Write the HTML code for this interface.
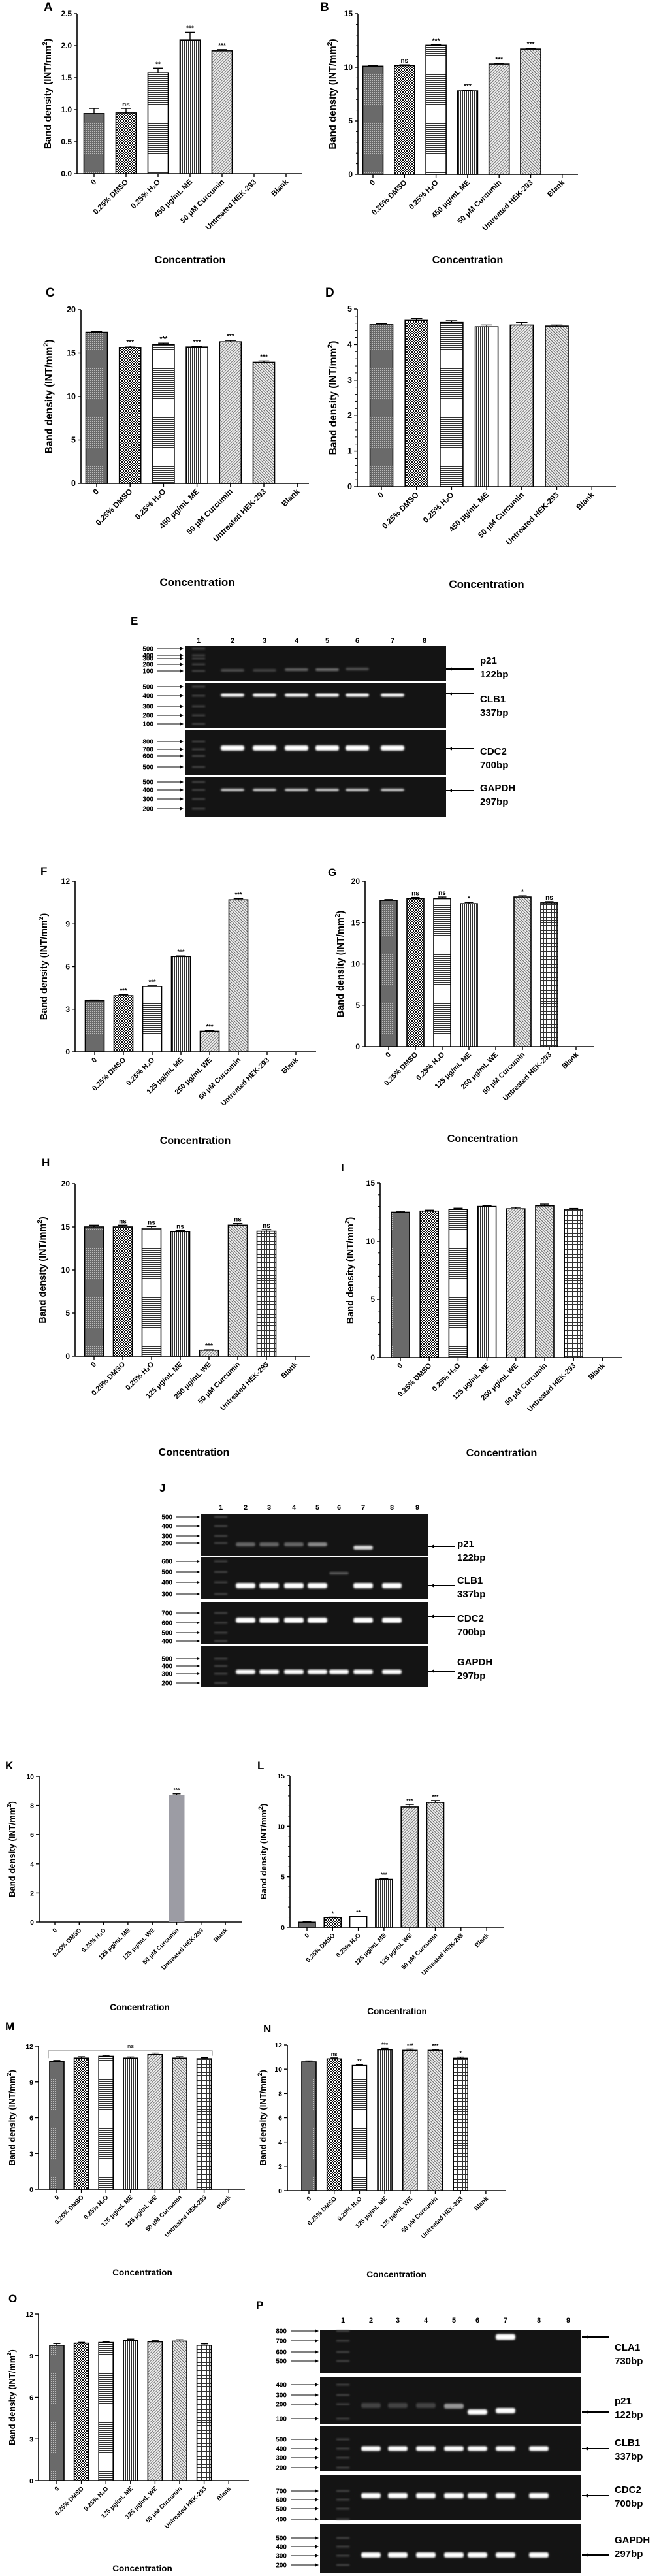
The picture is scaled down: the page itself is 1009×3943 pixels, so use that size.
<!DOCTYPE html>
<html><head><meta charset="utf-8"><title>Band density figure</title>
<style>
html,body{margin:0;padding:0;background:#fff;}
svg{display:block;font-family:"Liberation Sans",Arial,sans-serif;}
</style></head>
<body>
<svg id="fig" width="1009" height="3943" viewBox="0 0 1009 3943" xmlns="http://www.w3.org/2000/svg">
<defs>
<pattern id="p0" width="3" height="3" patternUnits="userSpaceOnUse"><rect width="3" height="3" fill="#6a6a6a"/><rect width="1" height="1" fill="#bbb"/></pattern>
<pattern id="p1" width="4" height="4" patternUnits="userSpaceOnUse"><rect width="4" height="4" fill="#fff"/><rect width="2" height="2" fill="#111"/><rect x="2" y="2" width="2" height="2" fill="#111"/></pattern>
<pattern id="p2" width="4" height="3" patternUnits="userSpaceOnUse"><rect width="4" height="3" fill="#fff"/><rect width="4" height="1" fill="#333"/></pattern>
<pattern id="p3" width="3" height="4" patternUnits="userSpaceOnUse"><rect width="3" height="4" fill="#fff"/><rect width="1" height="4" fill="#333"/></pattern>
<pattern id="p4" width="3" height="3" patternUnits="userSpaceOnUse" patternTransform="rotate(45)"><rect width="3" height="3" fill="#eee"/><rect width="1" height="3" fill="#777"/></pattern>
<pattern id="p5" width="3" height="3" patternUnits="userSpaceOnUse" patternTransform="rotate(-45)"><rect width="3" height="3" fill="#eee"/><rect width="1" height="3" fill="#666"/></pattern>
<pattern id="p6" width="4" height="4" patternUnits="userSpaceOnUse"><rect width="4" height="4" fill="#fff"/><rect width="4" height="1" fill="#333"/><rect width="1" height="4" fill="#333"/></pattern>
<filter id="blur" x="-50%" y="-100%" width="200%" height="300%"><feGaussianBlur stdDeviation="1.4"/></filter>
</defs>
</svg>
<script>
// ===== DATA =====
const catsA = ["0","0.25% DMSO","0.25% H\u2082O","450 \u03bcg/mL ME","50 \u03bcM Curcumin","Untreated HEK-293","Blank"];
const catsF = ["0","0.25% DMSO","0.25% H\u2082O","125 \u03bcg/mL ME","250 \u03bcg/mL WE","50 \u03bcM Curcumin","Untreated HEK-293","Blank"];
const catsK = ["0","0.25% DMSO","0.25% H\u2082O","125 \u03bcg/mL ME","125 \u03bcg/mL WE","50 \u03bcM Curcumin","Untreated HEK-293","Blank"];

const valsA = [0.94,0.95,1.58,2.09,1.92,0,0];
const errsA = [0.08,0.07,0.07,0.12,0.02,0,0];
const sigA = ["","ns","**","***","***","",""];
const ticksA = [0,0.5,1.0,1.5,2.0,2.5];

const valsB = [10.1,10.15,12.05,7.8,10.3,11.7,0];
const errsB = [0.05,0.08,0.05,0.06,0.05,0.06,0];
const sigB = ["","ns","***","***","***","***",""];
const ticksB = [0,5,10,15];

const valsC = [17.4,15.65,16.0,15.7,16.3,13.95,0];
const errsC = [0.08,0.15,0.15,0.1,0.15,0.15,0];
const sigC = ["","***","***","***","***","***",""];
const ticksC = [0,5,10,15,20];

const valsD = [4.56,4.68,4.62,4.50,4.55,4.52,0];
const errsD = [0.03,0.05,0.05,0.05,0.07,0.03,0];
const sigD = ["","","","","","",""];
const ticksD = [0,1,2,3,4,5];

const valsF = [3.6,3.95,4.6,6.7,1.45,10.7,0,0];
const errsF = [0.05,0.07,0.05,0.05,0.05,0.08,0,0];
const sigF = ["","***","***","***","***","***","",""];
const ticksF = [0,3,6,9,12];

const valsG = [17.7,17.9,17.9,17.3,0,18.1,17.4,0];
const errsG = [0.1,0.15,0.2,0.15,0,0.15,0.15,0];
const sigG = ["","ns","ns","*","","*","ns",""];
const ticksG = [0,5,10,15,20];

const valsH = [15.0,15.0,14.85,14.45,0.7,15.2,14.5,0];
const errsH = [0.2,0.2,0.2,0.15,0.05,0.2,0.2,0];
const sigH = ["","ns","ns","ns","***","ns","ns",""];
const ticksH = [0,5,10,15,20];

const valsI = [12.5,12.6,12.75,13.0,12.8,13.05,12.75,0];
const errsI = [0.08,0.08,0.1,0.05,0.12,0.15,0.08,0];
const sigI = ["","","","","","","",""];
const ticksI = [0,5,10,15];

const valsK = [0,0,0,0,0,8.7,0,0];
const errsK = [0,0,0,0,0,0.1,0,0];
const sigK = ["","","","","","***","",""];
const ticksK = [0,2,4,6,8,10];

const valsL = [0.5,0.95,1.05,4.75,11.9,12.35,0,0];
const errsL = [0.05,0.05,0.05,0.08,0.25,0.2,0,0];
const sigL = ["","*","**","***","***","***","",""];
const ticksL = [0,5,10,15];

const valsM = [10.7,11.0,11.15,11.0,11.3,11.0,10.95,0];
const errsM = [0.1,0.12,0.08,0.1,0.12,0.12,0.08,0];
const sigM = ["","","","","","","",""];
const ticksM = [0,3,6,9,12];

const valsN = [10.6,10.85,10.3,11.6,11.55,11.55,10.9,0];
const errsN = [0.08,0.08,0.05,0.1,0.1,0.08,0.1,0];
const sigN = ["","ns","**","***","***","***","*",""];
const ticksN = [0,2,4,6,8,10,12];

const valsO = [9.75,9.9,9.95,10.1,10.0,10.05,9.75,0];
const errsO = [0.12,0.06,0.06,0.1,0.08,0.1,0.1,0];
const sigO = ["","","","","","","",""];
const ticksO = [0,3,6,9,12];

// ===== RENDER =====
const NS = "http://www.w3.org/2000/svg";
const svg = document.getElementById("fig");
function el(tag, attrs, parent){
  const e = document.createElementNS(NS, tag);
  for (const k in attrs) e.setAttribute(k, attrs[k]);
  (parent||svg).appendChild(e);
  return e;
}
const pat6 = ["url(#p0)","url(#p1)","url(#p2)","url(#p3)","url(#p4)","url(#p5)"];
const pat7 = ["url(#p0)","url(#p1)","url(#p2)","url(#p3)","url(#p4)","url(#p5)","url(#p6)"];

function chart(c){
  const g = el("g", {});
  
  
  const yScale = v => c.y0 - (v / c.max) * (c.y0 - c.yTop);
  const xScale = i => c.first + i * c.step;
  // panel letter
  const L = el("text", {x:c.lx, y:c.ly, "font-size":c.big?19:17, "font-weight":"bold", fill:"#000"}, g);
  L.textContent = c.id;
  
  
  // axes
  const ya = el("line", {x1:c.ax, y1:c.yTop, x2:c.ax, y2:c.y0, stroke:"#000", "stroke-width":1.6}, g);
  
  
  const xa = el("line", {x1:c.ax, y1:c.y0, x2:c.xEnd, y2:c.y0, stroke:"#000", "stroke-width":1.6}, g);
  
  
  // ticks
  c.ticks.forEach(t => {
    const y = yScale(t);
    el("line", {x1:c.ax-5, y1:y, x2:c.ax, y2:y, stroke:"#000", "stroke-width":1.4}, g);
    const tl = el("text", {x:c.ax-8, y:y+4, "font-size":c.tfs, "font-weight":"bold", "text-anchor":"end"}, g);
    tl.textContent = c.tickFmt ? c.tickFmt(t) : String(t);
    
    
  });
  if (c.minor) {
    const mx = c.ticks[c.ticks.length-1];
    for (let v = 0; v <= mx + 1e-9; v += c.minor) {
      const y = yScale(v);
      el("line", {x1:c.ax-3, y1:y, x2:c.ax, y2:y, stroke:"#000", "stroke-width":1}, g);
    }
  }
  // y title
  const ty = (c.yTop + c.y0) / 2;
  const yt = el("text", {x:c.ax + c.titleOff, y:ty, "font-size":c.yfs, "font-weight":"bold", "text-anchor":"middle", transform:`rotate(-90 ${c.ax + c.titleOff} ${ty})`}, g);
  yt.textContent = "Band density (INT/mm";
  const sup = el("tspan", {"font-size":c.yfs*0.7, dy:-6}, yt);
  sup.textContent = "2";
  const close = el("tspan", {dy:6}, yt);
  close.textContent = ")";
  
  
  // bars + x labels
  c.cats.forEach((cat, i) => {
    const cx = xScale(i);
    el("line", {x1:cx, y1:c.y0, x2:cx, y2:c.y0+5, stroke:"#000", "stroke-width":1.4}, g);
    const xl = el("text", {x:cx+4, y:c.y0+13, "font-size":c.xfs, "font-weight":"bold", "text-anchor":"end", transform:`rotate(-45 ${cx+4} ${c.y0+13})`}, g);
    xl.textContent = cat;
    
    
    const v = c.vals[i];
    if (v > 0) {
      const yt2 = yScale(v);
      const fill = c.solid ? c.solid : c.pats[i];
      const bar = el("rect", {x:cx-c.bw/2, y:yt2, width:c.bw, height:c.y0-yt2, fill:fill, stroke:c.solid?"none":"#000", "stroke-width":1.6}, g);
      
      
      const e = c.errs[i];
      const ye = yScale(v + e);
      el("line", {x1:cx, y1:yt2, x2:cx, y2:ye, stroke:"#000", "stroke-width":1.4}, g);
      el("line", {x1:cx-c.bw*0.25, y1:ye, x2:cx+c.bw*0.25, y2:ye, stroke:"#000", "stroke-width":1.4}, g);
      if (c.sig[i]) {
        const st = el("text", {x:cx, y:ye-3, "font-size":c.sfs, "font-weight":"bold", "text-anchor":"middle"}, g);
        st.textContent = c.sig[i];
        
        
      }
    }
  });
  const ct = el("text", {x:c.cx, y:c.cy, "font-size":c.cfs, "font-weight":"bold", "text-anchor":"middle"}, g);
  ct.textContent = "Concentration";
  
  
  return {g, yScale, xScale};
}

const fmtA = t => t.toFixed(1);
chart({id:"A",lx:67,ly:17,ax:118,y0:266,yTop:21,max:2.5,ticks:ticksA,tickFmt:fmtA,xEnd:463,first:144,step:49,bw:31,cats:catsA,vals:valsA,errs:errsA,sig:sigA,pats:pat6,titleOff:-40,tfs:12,yfs:15,xfs:11.5,sfs:10,cx:291,cy:403,cfs:16,big:1});
chart({id:"B",lx:490,ly:17,ax:548,y0:267,yTop:21,max:15,ticks:ticksB,minor:1,xEnd:885,first:571,step:48.3,bw:31,cats:catsA,vals:valsB,errs:errsB,sig:sigB,pats:pat6,titleOff:-34,tfs:12,yfs:15,xfs:11.5,sfs:10,cx:716,cy:403,cfs:16,big:1});
chart({id:"C",lx:70,ly:454,ax:124,y0:740,yTop:474,max:20,ticks:ticksC,xEnd:473,first:148,step:51.2,bw:33,cats:catsA,vals:valsC,errs:errsC,sig:sigC,pats:pat6,titleOff:-44,tfs:12.5,yfs:15.5,xfs:12,sfs:10,cx:302,cy:897,cfs:17,big:1});
chart({id:"D",lx:498,ly:454,ax:547,y0:745,yTop:473,max:5,ticks:ticksD,minor:0.2,xEnd:943,first:584,step:53.7,bw:35,cats:catsA,vals:valsD,errs:errsD,sig:sigD,pats:pat6,titleOff:-32,tfs:12.5,yfs:15.5,xfs:12,sfs:10,cx:745,cy:900,cfs:17,big:1});
chart({id:"F",lx:62,ly:1339,ax:115,y0:1610,yTop:1349,max:12,ticks:ticksF,xEnd:484,first:145,step:44,bw:29,cats:catsF,vals:valsF,errs:errsF,sig:sigF,pats:pat7,titleOff:-43,tfs:12,yfs:14.5,xfs:11,sfs:9.5,cx:299,cy:1751,cfs:16});
chart({id:"G",lx:502,ly:1341,ax:559,y0:1602,yTop:1349,max:20,ticks:ticksG,xEnd:909,first:595,step:41,bw:26,cats:catsF,vals:valsG,errs:errsG,sig:sigG,pats:pat7,titleOff:-33,tfs:12,yfs:14.5,xfs:11,sfs:10,cx:739,cy:1748,cfs:16});
chart({id:"H",lx:64,ly:1785,ax:115,y0:2076,yTop:1812,max:20,ticks:ticksH,xEnd:474,first:144,step:44,bw:29,cats:catsF,vals:valsH,errs:errsH,sig:sigH,pats:pat7,titleOff:-45,tfs:12,yfs:14.5,xfs:11,sfs:10,cx:297,cy:2228,cfs:16});
chart({id:"I",lx:522,ly:1793,ax:582,y0:2078,yTop:1811,max:15,ticks:ticksI,minor:1,xEnd:952,first:613,step:44.2,bw:28,cats:catsF,vals:valsI,errs:errsI,sig:sigI,pats:pat7,titleOff:-41,tfs:12,yfs:14.5,xfs:11,sfs:10,cx:768,cy:2229,cfs:16});
chart({id:"K",lx:8,ly:2708,ax:60,y0:2942,yTop:2719,max:10,ticks:ticksK,xEnd:370,first:84,step:37.3,bw:24,cats:catsK,vals:valsK,errs:errsK,sig:sigK,pats:pat7,solid:"#9c9ca4",titleOff:-37,tfs:10.5,yfs:13,xfs:9.5,sfs:8.5,cx:214,cy:3077,cfs:13.5});
chart({id:"L",lx:394,ly:2708,ax:444,y0:2950,yTop:2718,max:15,ticks:ticksL,minor:1,xEnd:772,first:470,step:39.3,bw:26,cats:catsK,vals:valsL,errs:errsL,sig:sigL,pats:pat7,titleOff:-36,tfs:10.5,yfs:13,xfs:9.5,sfs:8.5,cx:608,cy:3083,cfs:13.5});
const M = chart({id:"M",lx:8,ly:3107,ax:59,y0:3351,yTop:3132,max:12,ticks:ticksM,xEnd:375,first:87,step:37.6,bw:22,cats:catsK,vals:valsM,errs:errsM,sig:sigM,pats:pat7,titleOff:-36,tfs:10.5,yfs:13,xfs:9.5,sfs:8.5,cx:218,cy:3483,cfs:13.5});
chart({id:"N",lx:403,ly:3111,ax:440,y0:3353,yTop:3130,max:12,ticks:ticksN,xEnd:774,first:473,step:38.7,bw:22,cats:catsK,vals:valsN,errs:errsN,sig:sigN,pats:pat7,titleOff:-33,tfs:10.5,yfs:13,xfs:9.5,sfs:8.5,cx:607,cy:3486,cfs:13.5});
chart({id:"O",lx:13,ly:3524,ax:59,y0:3797,yTop:3542,max:12,ticks:ticksO,xEnd:382,first:87,step:37.6,bw:22,cats:catsK,vals:valsO,errs:errsO,sig:sigO,pats:pat7,titleOff:-36,tfs:10.5,yfs:13,xfs:9.5,sfs:8.5,cx:218,cy:3936,cfs:13.5});

// ns bracket on M
const br = el("path", {d:`M74 ${M.yScale(11.0)} L74 3139 L325 3139 L325 ${M.yScale(11.2)}`, fill:"none", stroke:"#777", "stroke-width":1});


const brt = el("text", {x:200, y:3135, "font-size":9.5, "text-anchor":"middle"});
brt.textContent = "ns";



// ===== GELS =====
function arrow(g, x1, y, x2, w){
  el("line", {x1:x1, y1:y, x2:x2-4, y2:y, stroke:"#000", "stroke-width":w||1}, g);
  const d = x2 > x1 ? 1 : -1;
  el("path", {d:`M${x2} ${y} L${x2-5*d} ${y-2.5} L${x2-5*d} ${y+2.5}Z`, fill:"#000"}, g);
}
function gel(G){
  const g = el("g", {});
  
  
  const L = el("text", {x:G.lx, y:G.ly, "font-size":17, "font-weight":"bold"}, g);
  L.textContent = G.id;
  
  
  G.lanes.forEach((x, i) => {
    const t = el("text", {x:x, y:G.numY, "font-size":11, "font-weight":"bold", "text-anchor":"middle"}, g);
    t.textContent = String(i + 1);
    
    
  });
  G.panels.forEach(p => {
    const r = el("rect", {x:G.x, y:p.y, width:G.w, height:p.h, fill:"#141414"}, g);
    
    
    // ladder
    p.ladder.forEach(l => {
      el("rect", {x:G.lanes[0]-10, y:l[1]-1, width:20, height:2, fill:"#555", filter:"url(#blur)"}, g);
      const t = el("text", {x:G.tx, y:l[1]+3.5, "font-size":10, "font-weight":"bold", "text-anchor":"end"}, g);
      t.textContent = l[0];
      arrow(g, G.tx+6, l[1], G.x-2, 1);
    });
    p.bands.forEach(b => {
      const c = el("rect", {x:G.lanes[b[0]-1]-G.bw/2, y:b[1]-b[3]/2, width:G.bw, height:b[3], rx:3, fill:`rgba(255,255,255,${b[2]})`, filter:"url(#blur)"}, g);
      
      
    });
    arrow(g, G.x+G.w+G.ra+40, p.ay, G.x+G.w+G.ra+2, 2);
    const t1 = el("text", {x:G.rx, y:p.ty, "font-size":15, "font-weight":"bold"}, g);
    t1.textContent = p.name;
    const t2 = el("text", {x:G.rx, y:p.ty+21, "font-size":15, "font-weight":"bold"}, g);
    t2.textContent = p.bp;
    
    
  });
}
function bandsFor(lanes, y, a, h){ return lanes.map(l => [l, y, a, h]); }

gel({id:"E", lx:200, ly:956, numY:984, x:283, w:400, tx:235, rx:735, ra:2, bw:36,
  lanes:[304,356,405,454,501,547,601,650],
  panels:[
    {name:"p21", bp:"122bp", y:989, h:53, ay:1024, ty:1016,
      ladder:[["500",993],["400",1003],["300",1008],["200",1017],["100",1027]],
      bands:[[2,1026,0.25,4],[3,1026,0.2,4],[4,1025,0.35,4],[5,1025,0.4,4],[6,1024,0.25,4]]},
    {name:"CLB1", bp:"337bp", y:1046, h:69, ay:1062, ty:1075,
      ladder:[["500",1051],["400",1065],["300",1081],["200",1095],["100",1108]],
      bands:bandsFor([2,3,4,5,6,7],1064,0.95,5)},
    {name:"CDC2", bp:"700bp", y:1118, h:69, ay:1146, ty:1155,
      ladder:[["800",1135],["700",1147],["600",1157],["500",1174]],
      bands:bandsFor([2,3,4,5,6,7],1145,1,8)},
    {name:"GAPDH", bp:"297bp", y:1190, h:61, ay:1210, ty:1211,
      ladder:[["500",1197],["400",1209],["300",1223],["200",1238]],
      bands:bandsFor([2,3,4,5,6,7],1209,0.75,4)}
  ]});

gel({id:"J", lx:244, ly:2283, numY:2311, x:308, w:347, tx:264, rx:700, ra:2, bw:30,
  lanes:[338,376,412,450,486,519,556,600,639],
  panels:[
    {name:"p21", bp:"122bp", y:2317, h:64, ay:2367, ty:2368,
      ladder:[["500",2322],["400",2336],["300",2351],["200",2362]],
      bands:[[2,2364,0.35,6],[3,2364,0.35,6],[4,2364,0.35,6],[5,2364,0.5,6],[7,2369,0.85,6]]},
    {name:"CLB1", bp:"337bp", y:2384, h:63, ay:2427, ty:2424,
      ladder:[["600",2390],["500",2406],["400",2422],["300",2440]],
      bands:bandsFor([2,3,4,5,7,8],2427,1,8).concat([[6,2408,0.3,4]])},
    {name:"CDC2", bp:"700bp", y:2452, h:64, ay:2474, ty:2482,
      ladder:[["700",2469],["600",2484],["500",2499],["400",2512]],
      bands:bandsFor([2,3,4,5,7,8],2480,1,8)},
    {name:"GAPDH", bp:"297bp", y:2520, h:63, ay:2558, ty:2549,
      ladder:[["500",2539],["400",2550],["300",2562],["200",2576]],
      bands:bandsFor([2,3,4,5,6,7,8],2559,1,7)}
  ]});

gel({id:"P", lx:392, ly:3534, numY:3555, x:490, w:400, tx:439, rx:941, ra:3, bw:30,
  lanes:[525,568,609,652,695,731,774,825,870],
  panels:[
    {name:"CLA1", bp:"730bp", y:3567, h:65, ay:3577, ty:3598,
      ladder:[["800",3568],["700",3583],["600",3600],["500",3614]],
      bands:[[7,3577,1,9]]},
    {name:"p21", bp:"122bp", y:3639, h:71, ay:3692, ty:3680,
      ladder:[["400",3650],["300",3666],["200",3680],["100",3702]],
      bands:[[2,3682,0.2,8],[3,3682,0.2,8],[4,3682,0.2,8],[5,3683,0.55,8],[6,3692,1,8],[7,3690,1,8]]},
    {name:"CLB1", bp:"337bp", y:3714, h:69, ay:3748, ty:3744,
      ladder:[["500",3734],["400",3748],["300",3762],["200",3777]],
      bands:bandsFor([2,3,4,5,6,7,8],3748,1,7)},
    {name:"CDC2", bp:"700bp", y:3788, h:70, ay:3820, ty:3816,
      ladder:[["700",3813],["600",3826],["500",3840],["400",3856]],
      bands:bandsFor([2,3,4,5,6,7,8],3820,1,8)},
    {name:"GAPDH", bp:"297bp", y:3864, h:75, ay:3911, ty:3893,
      ladder:[["500",3885],["400",3898],["300",3912],["200",3926]],
      bands:bandsFor([2,3,4,5,6,7,8],3911,1,8)}
  ]});
</script>
</body></html>
